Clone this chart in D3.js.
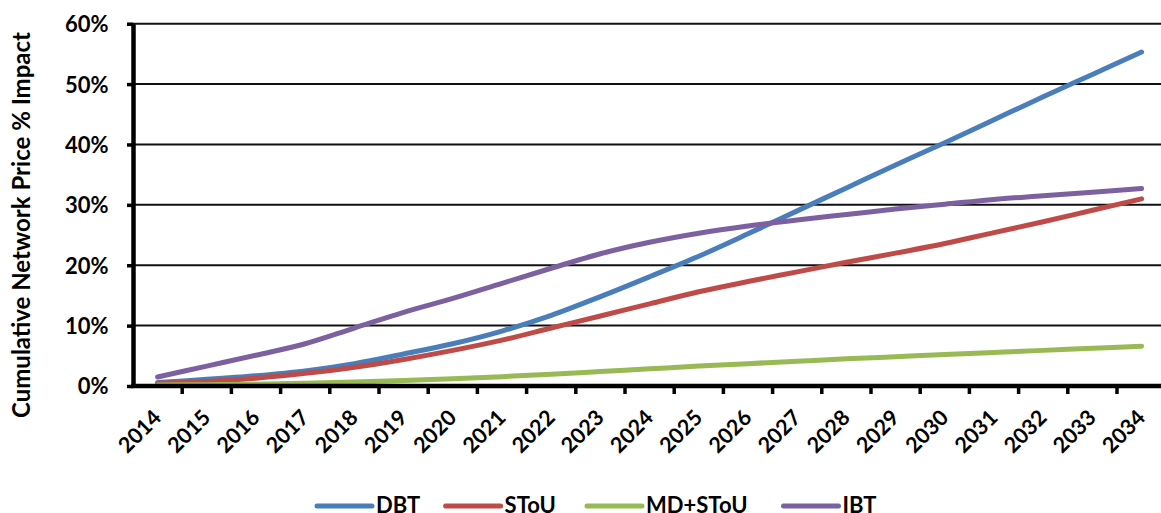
<!DOCTYPE html>
<html>
<head>
<meta charset="utf-8">
<script src="https://cdn.jsdelivr.net/npm/d3@7"></script>
<style>
  html, body { margin: 0; padding: 0; background: #fff; }
  svg { display: block; }
  text { font-family: Lato, "Open Sans", sans-serif; font-weight: 700; fill: #000; }
</style>
</head>
<body>
<svg id="chart" width="1161" height="513"></svg>
<script>
// Categories and series (cumulative % impact on network price)
const years = ["2014","2015","2016","2017","2018","2019","2020","2021","2022","2023","2024",
               "2025","2026","2027","2028","2029","2030","2031","2032","2033","2034"];
const dbt    = [0.6, 1.1, 1.7, 2.5, 3.7, 5.3, 7.0, 9.1, 11.7, 14.8, 18.1, 21.5, 25.2, 29.0, 32.8, 36.6, 40.3, 44.1, 47.9, 51.6, 55.3];
const stou   = [0.45, 0.75, 1.3, 2.1, 3.1, 4.4, 5.9, 7.6, 9.6, 11.6, 13.6, 15.6, 17.3, 18.9, 20.5, 22.0, 23.6, 25.4, 27.2, 29.1, 31.0];
const mdStou = [0.15, 0.22, 0.3, 0.45, 0.65, 0.9, 1.2, 1.55, 1.95, 2.4, 2.85, 3.3, 3.7, 4.1, 4.5, 4.85, 5.2, 5.55, 5.9, 6.25, 6.6];
const ibt    = [1.5, 3.3, 5.1, 7.0, 9.6, 12.2, 14.5, 17.0, 19.5, 21.9, 23.8, 25.3, 26.5, 27.5, 28.4, 29.3, 30.1, 30.9, 31.5, 32.1, 32.7];
const yTicks = [0, 10, 20, 30, 40, 50, 60];
const seriesNames  = ["DBT", "SToU", "MD+SToU", "IBT"];
const seriesValues = [dbt, stou, mdStou, ibt];
const seriesColors = ["#4a7ebb", "#be4b48", "#98b954", "#7d60a0"];

const svg = d3.select("#chart");
const plotLeft = 133, plotRight = 1166.2, plotTop = 23.7, plotBottom = 386;

const x = d3.scaleBand().domain(years).range([plotLeft, plotRight]).padding(0);
const y = d3.scaleLinear().domain([0, 60]).range([plotBottom, plotTop]);
const cx = d => x(d) + x.bandwidth() / 2;

// horizontal gridlines
svg.append("g").selectAll("line")
  .data(yTicks.filter(v => v > 0))
  .join("line")
  .attr("x1", plotLeft).attr("x2", plotRight)
  .attr("y1", d => y(d)).attr("y2", d => y(d))
  .attr("stroke", "#111").attr("stroke-width", 2);

// series lines
const line = d3.line()
  .x((d, i) => cx(years[i]))
  .y(d => y(d))
  .curve(d3.curveCatmullRom.alpha(0.5));

svg.append("g").selectAll("path")
  .data(seriesValues)
  .join("path")
  .attr("d", d => line(d))
  .attr("fill", "none")
  .attr("stroke", (d, i) => seriesColors[i])
  .attr("stroke-width", 5)
  .attr("stroke-linecap", "round")
  .attr("stroke-linejoin", "round");

// y axis
const yAxis = svg.append("g")
  .attr("transform", `translate(${plotLeft},0)`)
  .call(d3.axisLeft(y).tickValues(yTicks).tickFormat(d => d + "%").tickSize(6).tickSizeOuter(0));
yAxis.select(".domain").attr("stroke", "#000").attr("stroke-width", 4.5);
yAxis.selectAll(".tick line").attr("stroke", "#000").attr("stroke-width", 3.5);
yAxis.selectAll(".tick text")
  .attr("x", -24.5).attr("dy", "0.36em")
  .attr("text-anchor", "end")
  .style("font-size", "22px");

// x axis: tick marks on category boundaries, labels on category centres
const xAxis = svg.append("g").attr("transform", `translate(0,${plotBottom})`);
xAxis.append("line")
  .attr("x1", plotLeft - 2).attr("x2", plotRight)
  .attr("stroke", "#000").attr("stroke-width", 4.5);
xAxis.selectAll("line.tk")
  .data(years.slice(1).concat(["end"]))
  .join("line").attr("class", "tk")
  .attr("x1", d => d === "end" ? plotRight : x(d))
  .attr("x2", d => d === "end" ? plotRight : x(d))
  .attr("y1", 0).attr("y2", 8)
  .attr("stroke", "#000").attr("stroke-width", 3.5);
xAxis.selectAll("text")
  .data(years)
  .join("text")
  .attr("transform", d => `translate(${cx(d) + 5},33) rotate(-45)`)
  .attr("text-anchor", "end")
  .style("font-size", "21.5px")
  .text(d => d);

// y axis title
svg.append("text")
  .attr("transform", "translate(30,225) rotate(-90)")
  .attr("text-anchor", "middle")
  .style("font-size", "24px")
  .text("Cumulative Network Price % Impact");

// legend
const legendX = [317, 445.6, 587, 783.5];
const lg = svg.append("g").selectAll("g")
  .data(seriesNames)
  .join("g")
  .attr("transform", (d, i) => `translate(${legendX[i]},506)`);
lg.append("line")
  .attr("x1", 0).attr("x2", 55)
  .attr("stroke", (d, i) => seriesColors[i])
  .attr("stroke-width", 5)
  .attr("stroke-linecap", "round");
lg.append("text")
  .attr("transform", "translate(59,7)")
  .style("font-size", "22px")
  .text(d => d);
</script>
</body>
</html>
